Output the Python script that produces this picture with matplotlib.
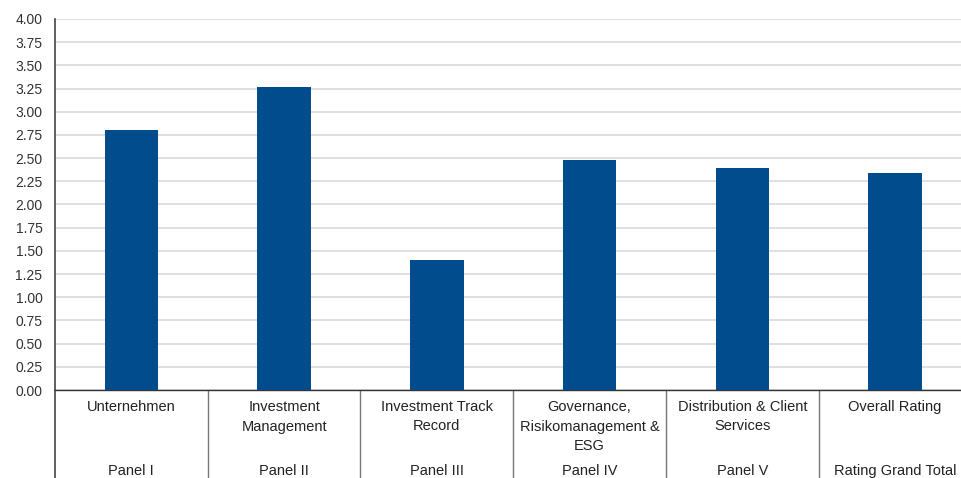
import matplotlib
matplotlib.use("Agg")
import matplotlib.pyplot as plt
from matplotlib.transforms import blended_transform_factory

categories = ["Unternehmen", "Investment\nManagement", "Investment Track\nRecord",
              "Governance,\nRisikomanagement &\nESG", "Distribution & Client\nServices",
              "Overall Rating"]
panels = ["Panel I", "Panel II", "Panel III", "Panel IV", "Panel V", "Rating Grand Total"]
values = [2.80, 3.27, 1.40, 2.48, 2.39, 2.34]
yticks = [i * 0.25 for i in range(17)]

plt.rcParams['font.family'] = ['Liberation Sans', 'DejaVu Sans']

W, H = 962, 478
fig = plt.figure(figsize=(W / 100, H / 100), dpi=100)
left_px, right_px, top_px, bottom_px = 55, 971.5, 19, 390
ax = fig.add_axes([left_px / W, (H - bottom_px) / H, (right_px - left_px) / W, (bottom_px - top_px) / H])

x = list(range(len(categories)))
ax.bar(x, values, width=0.35, color="#004C8C", zorder=3)
ax.set_xlim(-0.5, len(categories) - 0.5)
ax.set_ylim(0, 4.0)
ax.set_yticks(yticks)
ax.set_yticklabels([f"{t:.2f}" for t in yticks], fontsize=10, color="#333333")
ax.tick_params(axis="y", length=0, pad=9)
ax.tick_params(axis="x", length=0, labelbottom=False)
ax.yaxis.grid(True, color="#d9d9d9", linewidth=1.2, zorder=0)
ax.set_axisbelow(True)
for s in ["top", "right"]:
    ax.spines[s].set_visible(False)
ax.spines["left"].set_color("#444444")
ax.spines["left"].set_linewidth(1.2)
ax.spines["bottom"].set_color("#333333")
ax.spines["bottom"].set_linewidth(1.0)

# category table below
trans = blended_transform_factory(ax.transData, ax.transAxes)
axh = bottom_px - top_px
y_bottom = -(H - bottom_px) / axh
ax.vlines([-0.5], y_bottom, 0, transform=trans, colors="#444444", linewidth=1.2, clip_on=False)
ax.vlines([i + 0.5 for i in range(len(categories) - 1)], y_bottom, 0, transform=trans,
          colors="#777777", linewidth=1.0, clip_on=False)
y_lab = -(400 - bottom_px) / axh
y_pan = -(464 - bottom_px) / axh
for i, (c, p) in enumerate(zip(categories, panels)):
    ax.text(i, y_lab, c, transform=trans, ha="center", va="top", fontsize=10.5,
            color="#222222", linespacing=1.5)
    ax.text(i, y_pan, p, transform=trans, ha="center", va="top", fontsize=10.5,
            color="#222222")

fig.savefig("out.png", dpi=100)
